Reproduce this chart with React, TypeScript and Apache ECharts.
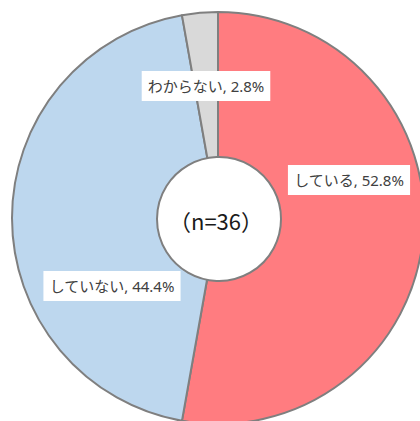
import React, { useEffect, useRef } from "react";
import * as echarts from "echarts";

const categories = ["している", "していない", "わからない"];
const percents = [52.8, 44.4, 2.8];
const sampleLabel = "（n=36）";
const colors = ["#FF7C80", "#BDD7EE", "#D9D9D9"];
// label anchor centres (page pixels), Excel "best fit" style
const labelCentres = [
  [349, 180],
  [112, 286],
  [206, 86],
];

export default function App() {
  const ref = useRef<HTMLDivElement>(null);
  useEffect(() => {
    const chart = echarts.init(ref.current!, null, { renderer: "svg" });
    const font = '"Noto Sans", "Noto Sans CJK JP", sans-serif';
    chart.setOption({
      animation: false,
      backgroundColor: "#ffffff",
      series: [
        {
          type: "pie",
          center: [218, 218],
          radius: [0, 206],
          startAngle: 90,
          clockwise: true,
          silent: true,
          data: categories.map((c, i) => ({
            name: c,
            value: percents[i],
            itemStyle: { color: colors[i] },
          })),
          itemStyle: { borderColor: "#7F7F7F", borderWidth: 2 },
          label: {
            show: true,
            position: "inside",
            formatter: (p: any) => `${p.name}, ${p.value.toFixed(1)}%`,
            fontFamily: font,
            fontSize: 15,
            color: "#404040",
            backgroundColor: "#ffffff",
            padding: [8, 6, 7, 6],
          },
          labelLine: { show: false },
          labelLayout: (params: any) => {
            const c = labelCentres[params.dataIndex];
            return { x: c[0], y: c[1], align: "center", verticalAlign: "middle" };
          },
        },
      ],
      graphic: [
        {
          type: "circle",
          shape: { cx: 219, cy: 219, r: 62 },
          style: { fill: "#ffffff", stroke: "#7F7F7F", lineWidth: 2 },
          z: 100,
        },
        {
          type: "text",
          x: 216,
          y: 220,
          z: 101,
          style: {
            text: sampleLabel,
            fontFamily: '"Noto Sans CJK JP", sans-serif',
            fontSize: 22,
            fill: "#1a1a1a",
            align: "center",
            verticalAlign: "middle",
          },
        },
      ],
    });
    return () => chart.dispose();
  }, []);
  return (
    <div
      ref={ref}
      style={{ position: "fixed", left: 0, top: 0, width: 420, height: 421 }}
    />
  );
}
